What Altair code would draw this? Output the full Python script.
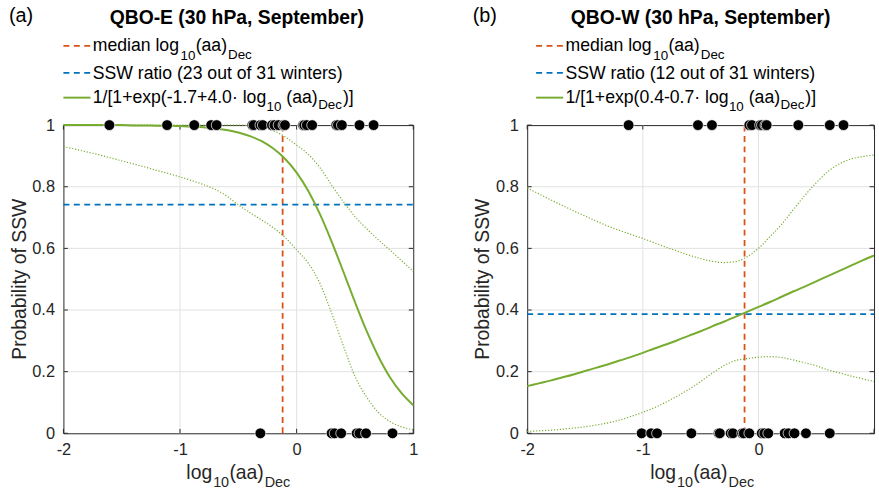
import altair as alt
import pandas as pd

# ---------------- data ----------------
XS = [-2.0, -1.9, -1.8, -1.7, -1.6, -1.5, -1.4, -1.3, -1.2, -1.1, -1.0,
      -0.9, -0.8, -0.7, -0.6, -0.5, -0.4, -0.3, -0.2, -0.1, 0.0,
      0.1, 0.2, 0.3, 0.4, 0.5, 0.6, 0.7, 0.8, 0.9, 1.0]

# QBO-E panel
E_FIT = [1.000, 1.000, 1.000, 1.000, 1.000, 1.000, 0.999, 0.999, 0.998, 0.998, 0.997,
         0.995, 0.993, 0.989, 0.984, 0.976, 0.964, 0.948, 0.924, 0.891, 0.846,
         0.786, 0.711, 0.622, 0.525, 0.426, 0.332, 0.250, 0.182, 0.130, 0.091]
E_UP = [1.000, 1.000, 1.000, 1.000, 1.000, 1.000, 1.000, 1.000, 1.000, 1.000, 1.000,
        1.000, 1.000, 1.000, 1.000, 1.000, 0.998, 0.993, 0.982, 0.962, 0.935,
        0.905, 0.862, 0.805, 0.752, 0.703, 0.664, 0.628, 0.595, 0.560, 0.526]
E_LO = [0.930, 0.922, 0.913, 0.904, 0.894, 0.884, 0.874, 0.864, 0.853, 0.843, 0.832,
        0.820, 0.807, 0.792, 0.770, 0.741, 0.716, 0.692, 0.667, 0.636, 0.595,
        0.552, 0.486, 0.390, 0.285, 0.185, 0.118, 0.068, 0.038, 0.021, 0.011]
E_SSW = [-1.606, -1.111, -0.878, -0.733, -0.686, -0.38, -0.368, -0.311, -0.29, -0.212,
         -0.19, -0.155, -0.113, -0.10, 0.055, 0.065, 0.087, 0.133, 0.34, 0.354,
         0.388, 0.539, 0.660]
E_NO = [-0.311, 0.30, 0.326, 0.382, 0.515, 0.539, 0.595, 0.822]
E_MEDIAN = -0.12
E_RATIO = 0.742

# QBO-W panel
W_FIT = [0.153, 0.162, 0.171, 0.181, 0.191, 0.202, 0.213, 0.224, 0.236, 0.248, 0.261,
         0.275, 0.288, 0.302, 0.317, 0.331, 0.347, 0.362, 0.378, 0.394, 0.410,
         0.426, 0.443, 0.460, 0.476, 0.493, 0.510, 0.527, 0.544, 0.561, 0.577]
W_UP = [0.796, 0.777, 0.758, 0.740, 0.722, 0.705, 0.688, 0.672, 0.658, 0.645, 0.632,
        0.618, 0.604, 0.591, 0.578, 0.567, 0.558, 0.554, 0.557, 0.572, 0.600,
        0.638, 0.678, 0.725, 0.771, 0.813, 0.849, 0.874, 0.890, 0.898, 0.903]
W_LO = [0.006, 0.008, 0.010, 0.013, 0.017, 0.021, 0.027, 0.034, 0.043, 0.055, 0.068,
        0.083, 0.101, 0.121, 0.143, 0.168, 0.195, 0.219, 0.236, 0.242, 0.247,
        0.249, 0.246, 0.238, 0.229, 0.219, 0.206, 0.196, 0.186, 0.177, 0.168]
W_SSW = [-1.123, -0.523, -0.402, -0.079, -0.056, 0.014, 0.03, 0.06, 0.071, 0.345,
         0.617, 0.736]
W_NO = [-1.010, -0.928, -0.877, -0.580, -0.345, -0.334, -0.240, -0.22, -0.141, -0.127,
        -0.079, 0.029, 0.051, 0.085, 0.227, 0.26, 0.312, 0.411, 0.617]
W_MEDIAN = -0.12
W_RATIO = 0.387

X_TICKS = [-2, -1, 0, 1]
Y_TICKS = [0, 0.2, 0.4, 0.6, 0.8, 1]
X_GRID = [-1, 0]
Y_GRID = [0.2, 0.4, 0.6, 0.8]

TAGS = ["(a)", "(b)"]
TITLES = ["QBO-E (30 hPa, September)", "QBO-W (30 hPa, September)"]
RATIO_TEXT = ["SSW ratio (23 out of 31 winters)", "SSW ratio (12 out of 31 winters)"]
FIT_TEXT = ["1/[1+exp(-1.7+4.0\u00b7 log", "1/[1+exp(0.4-0.7\u00b7 log"]
Y_TITLE = "Probability of SSW"

# ---------------- styles ----------------
FONT = "Liberation Sans"
RED = "#D95319"
BLUE = "#0072BD"
GREEN = "#77AC30"
INK = "#262626"
GRIDC = "#e2e2e2"
DASH = [6, 4.5]
DOT = [1.2, 1.8]
H = 311

# Arial / Liberation Sans advance widths (per 1000 em) for text layout
CW = {" ": 278, "(": 333, ")": 333, "[": 278, "]": 278, "/": 278, "+": 584, "-": 333,
      ".": 278, "\u00b7": 278, "a": 556, "c": 500, "d": 556, "e": 556, "f": 278,
      "g": 556, "i": 222, "l": 222, "m": 833, "n": 556, "o": 556, "p": 556, "r": 333,
      "s": 500, "t": 278, "u": 556, "w": 722, "x": 500, "D": 722, "S": 667, "W": 944}
for _d in "0123456789":
    CW[_d] = 556


def tw(s, size):
    return sum(CW.get(c, 556) for c in s) / 1000.0 * size


ONE = pd.DataFrame({"k": [0]})


def txt(s, x, y, size, align="left", baseline="alphabetic", weight="normal",
        color="black", angle=0):
    kw = dict(text=s, font=FONT, fontSize=size, align=align, baseline=baseline,
              fontWeight=weight, color=color)
    if angle:
        kw["angle"] = angle
    return alt.Chart(ONE).mark_text(**kw).encode(x=alt.value(x), y=alt.value(y))


def hline(x1, x2, y, color, dash=None, width=1.8):
    kw = dict(color=color, strokeWidth=width)
    if dash:
        kw["strokeDash"] = dash
    return alt.Chart(ONE).mark_rule(**kw).encode(
        x=alt.value(x1), x2=alt.value(x2), y=alt.value(y))


def panel(idx, W, fit, up, lo, ssw, no, med, ratio, anchors, leg_dx):
    xs = alt.Scale(domain=[-2, 1], nice=False, zero=False)
    ys = alt.Scale(domain=[0, 1], nice=False, zero=False)
    if idx == 1:
        lab = "datum.value == 1 ? '' : (datum.value < 0 ? '-' + abs(datum.value) : '' + datum.value)"
    else:
        lab = "datum.value < 0 ? '-' + abs(datum.value) : '' + datum.value"
    xax = alt.Axis(values=X_TICKS, title=None, grid=False, ticks=False, tickSize=0,
                   domain=False, labelExpr=lab, labelFont=FONT, labelFontSize=16.5,
                   labelColor=INK, labelPadding=8, labelFlush=False)
    yax = alt.Axis(values=Y_TICKS, title=None, grid=False, ticks=False, tickSize=0,
                   domain=False, format="~g", labelFont=FONT, labelFontSize=16.5,
                   labelColor=INK, labelPadding=9, labelFlush=False)

    def X(f="x"):
        return alt.X(f"{f}:Q", scale=xs, axis=xax)

    def Y(f="y"):
        return alt.Y(f"{f}:Q", scale=ys, axis=yax)

    layers = []
    # invisible anchors fixing the panel bounds
    for ax in anchors:
        layers.append(alt.Chart(ONE).mark_rule(color="white", strokeWidth=0.5).encode(
            x=alt.value(ax), x2=alt.value(ax + 0.5), y=alt.value(-122.7)))

    # grid
    layers.append(alt.Chart(pd.DataFrame({"x": X_GRID})).mark_rule(
        color=GRIDC, strokeWidth=1).encode(x=X()))
    layers.append(alt.Chart(pd.DataFrame({"y": Y_GRID})).mark_rule(
        color=GRIDC, strokeWidth=1).encode(y=Y()))

    # inward ticks on all four sides
    ydf = pd.DataFrame({"y": Y_TICKS})
    xdf = pd.DataFrame({"x": X_TICKS})
    layers.append(alt.Chart(ydf).mark_rule(color=INK, strokeWidth=1).encode(
        y=Y(), x=alt.value(0), x2=alt.value(4.5)))
    layers.append(alt.Chart(ydf).mark_rule(color=INK, strokeWidth=1).encode(
        y=Y(), x=alt.value(W - 4.5), x2=alt.value(W)))
    layers.append(alt.Chart(xdf).mark_rule(color=INK, strokeWidth=1).encode(
        x=X(), y=alt.value(H - 4.5), y2=alt.value(H)))
    layers.append(alt.Chart(xdf).mark_rule(color=INK, strokeWidth=1).encode(
        x=X(), y=alt.value(0), y2=alt.value(4.5)))

    # median and ratio lines
    layers.append(alt.Chart(pd.DataFrame({"x": [med], "y": [0.0], "y2": [1.0]})).mark_rule(
        color=RED, strokeWidth=1.8, strokeDash=DASH).encode(x=X(), y=Y(), y2="y2:Q"))
    layers.append(alt.Chart(pd.DataFrame({"y": [ratio], "x": [-2.0], "x2": [1.0]})).mark_rule(
        color=BLUE, strokeWidth=1.8, strokeDash=DASH).encode(y=Y(), x=X(), x2="x2:Q"))

    # confidence bounds and fit
    for arr in (lo, up):
        layers.append(alt.Chart(pd.DataFrame({"x": XS, "y": arr})).mark_line(
            color=GREEN, strokeWidth=1.2, strokeDash=DOT, interpolate="monotone").encode(
            x=X(), y=Y()))
    layers.append(alt.Chart(pd.DataFrame({"x": XS, "y": fit})).mark_line(
        color=GREEN, strokeWidth=2, interpolate="monotone").encode(x=X(), y=Y()))

    # observations
    dots = pd.DataFrame({"x": ssw + no, "y": [1.0] * len(ssw) + [0.0] * len(no)})
    layers.append(alt.Chart(dots).mark_circle(
        fill="black", fillOpacity=1, opacity=1, stroke="white", strokeWidth=0.7,
        size=118).encode(x=X(), y=Y()))

    # titles
    layers.append(txt(TAGS[idx], -55, -104.4, 20, color="black"))
    layers.append(txt(TITLES[idx], 175, -102, 19.5, align="center", weight="bold"))

    # legend
    x0 = leg_dx + 29.6
    L1, L2, L3 = -74.4, -47.0, -22.0
    layers.append(hline(leg_dx, leg_dx + 27.3, -80.0, RED, DASH, 1.8))
    layers.append(hline(leg_dx, leg_dx + 27.3, -52.7, BLUE, DASH, 1.8))
    layers.append(hline(leg_dx, leg_dx + 27.3, -27.7, GREEN, None, 2))
    F, S = 17.8, 13.5
    # line 1
    a = x0
    layers.append(txt("median log", a, L1, F))
    a += tw("median log", F) + 1.5
    layers.append(txt("10", a, L1 + 8.5, S))
    a += tw("10", S) + 0.3
    layers.append(txt("(aa)", a, L1, F))
    a += tw("(aa)", F) + 1.0
    layers.append(txt("Dec", a, L1 + 7.2, S))
    # line 2
    layers.append(txt(RATIO_TEXT[idx], x0, L2, F))
    # line 3
    a = x0
    layers.append(txt(FIT_TEXT[idx], a, L3, F))
    a += tw(FIT_TEXT[idx], F) + 1.2
    layers.append(txt("10", a, L3 + 7.5, S))
    a += tw("10", S) + tw(" ", F)
    layers.append(txt("(aa)", a, L3, F))
    a += tw("(aa)", F) + 0.5
    layers.append(txt("Dec", a, L3 + 6.0, S))
    a += tw("Dec", S) + 1.0
    layers.append(txt(")]", a, L3, F))

    # axis titles
    layers.append(txt(Y_TITLE, -44.2, 155.5, 19.5, align="center", baseline="middle",
                      color=INK, angle=270))
    M, SS = 19.5, 14.5
    total = tw("log", M) + 1 + tw("10", SS) + 0.3 + tw("(aa)", M) + 1 + tw("Dec", SS)
    a = 176.5 - total / 2
    layers.append(txt("log", a, 357.3, M, color=INK))
    a += tw("log", M) + 1
    layers.append(txt("10", a, 357.3 + 7.7, SS, color=INK))
    a += tw("10", SS) + 0.3
    layers.append(txt("(aa)", a, 357.3, M, color=INK))
    a += tw("(aa)", M) + 1
    layers.append(txt("Dec", a, 357.3 + 7.7, SS, color=INK))

    return alt.layer(*layers).properties(width=W, height=H)


left = panel(0, 353, E_FIT, E_UP, E_LO, E_SSW, E_NO, E_MEDIAN, E_RATIO,
             anchors=[-62.7, 362.0], leg_dx=0.0)
right = panel(1, 350, W_FIT, W_UP, W_LO, W_SSW, W_NO, W_MEDIAN, W_RATIO,
              anchors=[-102.5], leg_dx=9.0)

chart = alt.hconcat(left, right, spacing=0).properties(
    padding=0, background="white"
).configure_view(stroke=INK, strokeWidth=1)

chart.save("out.html", embed_options={"renderer": "svg", "actions": False})
